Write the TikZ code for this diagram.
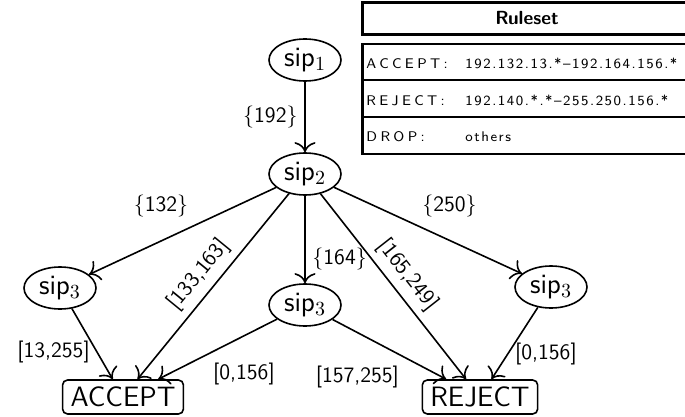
\documentclass[tikz,border=0pt]{standalone}
\usepackage{fontspec}
\newfontfamily\rulefont{lmsans8-regular.otf}
\usetikzlibrary{arrows.meta, positioning, shapes.geometric}

\begin{document}
\begin{tikzpicture}[x=0.5pt, y=-0.5pt, font=\sffamily,
    sip/.style={draw, ellipse, line width=0.8pt, minimum width=36pt, minimum height=21pt, inner sep=1pt, font=\sffamily\fontsize{14}{16}\selectfont},
    verdict/.style={draw, rounded corners=2.5pt, line width=0.8pt, minimum height=17pt, inner xsep=4pt, inner ysep=3pt, font=\sffamily\fontsize{14}{16}\selectfont},
    hop/.style={-{To[scale=1.5]}, line width=0.8pt},
    rng/.style={font=\sffamily\fontsize{11}{13}\selectfont},
    rulelbl/.style={inner sep=0pt, font=\rulefont\fontsize{7}{8}\selectfont\addfontfeature{LetterSpace=24}},
    ruleval/.style={inner sep=0pt, font=\rulefont\fontsize{7}{8}\selectfont\addfontfeature{LetterSpace=11}}]

  \useasboundingbox (0,0) rectangle (685,417);

  % ruleset table
  \draw[line width=1.35pt] (362.5,2.5) rectangle (705,34.5);
  \draw[line width=1.35pt] (362.5,44) rectangle (705,154);
  \draw[line width=0.65pt] (362.5,80) -- (705,80) (362.5,117) -- (705,117);
  \node[font=\sffamily\bfseries\fontsize{9.5}{11}\selectfont] (rules) at (527,18) {Ruleset};
  \foreach \what/\ips [count=\i from 0] in
    {ACCEPT:/192.132.13.*\textendash192.164.156.*, REJECT:/192.140.*.*\textendash255.250.156.*, DROP:/others} {
    \node[rulelbl, anchor=base west] (what\i) at (366, 69+36.3*\i) {\what};
    \node[ruleval, anchor=base west] (ips\i) at (465, 69+36.3*\i) {\ips};
  }

  % tree
  \node[sip] (s1) at (305,60) {sip$_1$};
  \node[sip] (s2) at (305,174) {sip$_2$};
  \node[sip] (s3a) at (60,288) {sip$_3$};
  \node[sip] (s3b) at (305,305) {sip$_3$};
  \node[sip] (s3c) at (551,287) {sip$_3$};
  \node[verdict] (acc) at (123,397) {ACCEPT};
  \node[verdict] (rej) at (480,397) {REJECT};

  \draw[hop] (s1) -- node[rng, left] (l192) {\{192\}} (s2);
  \draw[hop] (s2) -- node[rng, above left, pos=0.43] (l132) {\{132\}} (s3a);
  \draw[hop] (s2) -- node[rng, right, pos=0.72] (l164) {\{164\}} (s3b);
  \draw[hop] (s2) -- node[rng, above right, pos=0.43] (l250) {\{250\}} (s3c);
  \draw[hop] (s2) -- node[rng, sloped, above] (l133) {[133,163]} (acc);
  \draw[hop] (s2) -- node[rng, sloped, above] (l165) {[165,249]} (rej);
  \draw[hop] (s3a) -- node[rng, left, pos=0.62] (l13) {[13,255]} (acc);
  \draw[hop] (s3b) -- node[rng, below right, pos=0.6] (l0a) {[0,156]} (acc);
  \draw[hop] (s3b) -- node[rng, below left, pos=0.65] (l157) {[157,255]} (rej);
  \draw[hop] (s3c) -- node[rng, right, pos=0.65] (l0b) {[0,156]} (rej);
\end{tikzpicture}
\end{document}
